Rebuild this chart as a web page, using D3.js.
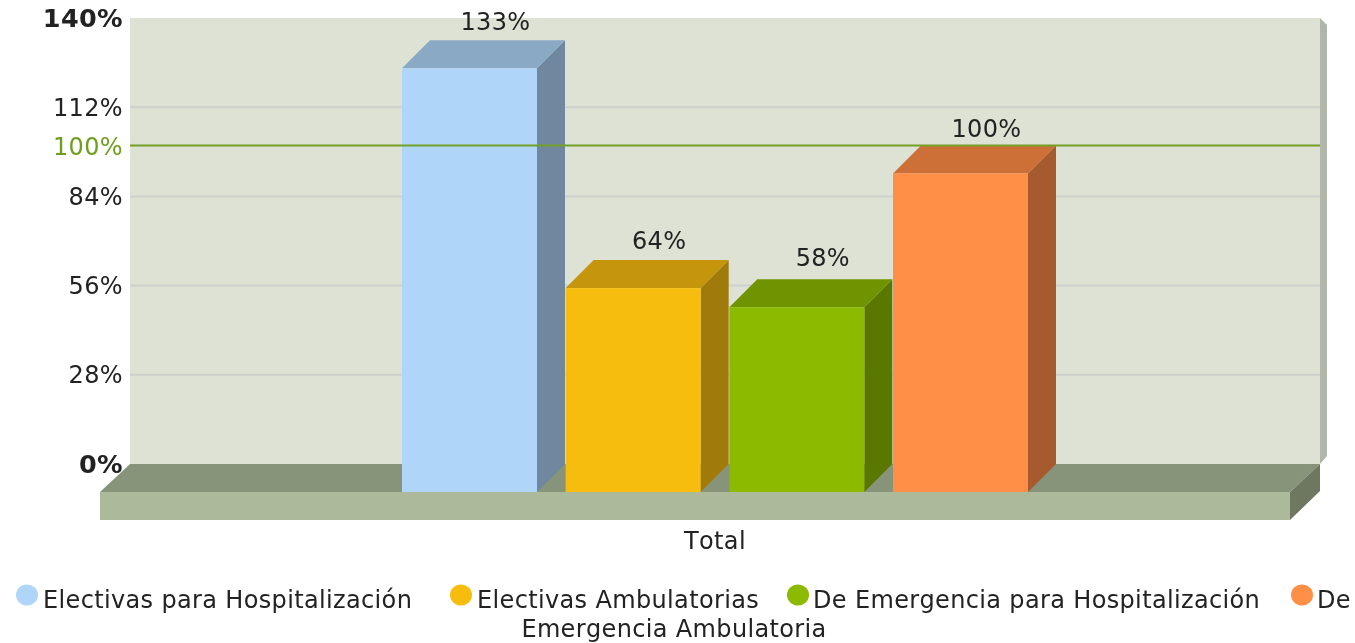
<!DOCTYPE html>
<html><head><meta charset="utf-8">
<script src="https://cdn.jsdelivr.net/npm/d3@7"></script>
<style>
html,body{margin:0;padding:0;background:#fff}
svg{display:block;filter:blur(0.55px)}
text{font-family:"DejaVu Sans",Verdana,sans-serif;fill:#222;font-kerning:none;letter-spacing:0.35px}
</style></head><body>
<svg id="c" width="1355" height="643"></svg>
<script>
const category = "Total";
const seriesNames = ["Electivas para Hospitalización","Electivas Ambulatorias","De Emergencia para Hospitalización","De Emergencia Ambulatoria"];
const seriesValues = [133,64,58,100];
const frontColors = ["#afd6f8","#f6bd0f","#8bba00","#ff8e46"];
const topColors = ["#8aa9c4","#c5960c","#6f9400","#cc7038"];
const sideColors = ["#6f88a0","#a07a0a","#5a7800","#a55b2d"];
const tickValues = [0,28,56,84,112,140];
const targetValue = 100;
const labelLift = [19,20,22,17];

const svg = d3.select("#c");
const depth = 28, fs = 24, boldFs = 25.5;
const y = d3.scaleLinear().domain([0,140]).range([464,18]);
const x = d3.scaleBand().domain(seriesNames).range([402,1028]).paddingInner(0.1752).paddingOuter(0);
const wallL = 130, wallR = 1320;
const poly = (pts,fill)=>svg.append("polygon").attr("points",pts.map(p=>p.join(",")).join(" ")).attr("fill",fill);

// wall
poly([[wallR,18],[1327,25],[1327,456],[wallR,464]],"#b0b6aa");
svg.append("rect").attr("x",wallL).attr("y",18).attr("width",wallR-wallL).attr("height",446).attr("fill","#dde2d4");
// gridlines
svg.append("g").selectAll("line").data(tickValues.filter(d=>d>0&&d<140)).join("line")
  .attr("x1",wallL).attr("x2",wallR).attr("y1",d=>y(d)).attr("y2",d=>y(d))
  .attr("stroke","#cdd1cd").attr("stroke-width",2);
// floor
const fy = y(0);
poly([[wallL,fy],[wallR,fy],[wallR-30,fy+depth],[wallL-30,fy+depth]],"#889479");
poly([[wallR-30,fy+depth],[wallR,fy],[wallR,fy+27],[wallR-30,fy+depth+28]],"#6e7860");
svg.append("rect").attr("x",wallL-30).attr("y",fy+depth).attr("width",wallR-wallL).attr("height",28).attr("fill","#acb99a");

// bars
seriesNames.forEach((s,i)=>{
  const v = seriesValues[i], l = x(s), r = l+x.bandwidth(), t = y(v)+depth, b = y(0)+depth;
  poly([[r,t],[r+depth,t-depth],[r+depth,b-depth],[r,b]],sideColors[i]);
  poly([[l,t],[l+depth,t-depth],[r+depth,t-depth],[r,t]],topColors[i]);
  svg.append("rect").attr("x",l).attr("y",t).attr("width",x.bandwidth()).attr("height",b-t).attr("fill",frontColors[i]);
});
// target line
svg.append("line").attr("x1",wallL).attr("x2",wallR).attr("y1",y(targetValue)).attr("y2",y(targetValue))
  .attr("stroke","#73a025").attr("stroke-width",2);

// axis
const axis = d3.axisLeft(y).tickValues(tickValues).tickSize(0).tickPadding(0).tickFormat(d=>d+"%");
const ag = svg.append("g").attr("transform","translate(123,0)").call(axis);
ag.select(".domain").remove();
ag.selectAll("text").attr("dy","0.33em")
  .style("font-size",d=>((d===0||d===140)?boldFs:fs)+"px")
  .style("font-weight",d=>(d===0||d===140)?"bold":"normal");
svg.append("text").attr("x",123).attr("y",y(targetValue)+1).attr("dy","0.36em").attr("text-anchor","end")
  .style("font-size",fs+"px").style("fill","#6f9e1f").text(targetValue+"%");

// value labels
svg.append("g").selectAll("text").data(seriesNames).join("text")
  .attr("x",s=>x(s)+x.bandwidth()/2+depth-2)
  .attr("y",(s,i)=>y(seriesValues[i])-labelLift[i]).attr("dy","0.36em")
  .attr("text-anchor","middle").style("font-size",fs+"px")
  .text((s,i)=>seriesValues[i]+"%");

// category
svg.append("text").attr("x",715).attr("y",540).attr("dy","0.36em").attr("text-anchor","middle").style("font-size",fs+"px").text(category);

// legend
const rows = [
 {cx:27,tx:43,t:seriesNames[0],c:frontColors[0]},
 {cx:461,tx:477,t:seriesNames[1],c:frontColors[1]},
 {cx:798,tx:813,t:seriesNames[2],c:frontColors[2]},
 {cx:1302,tx:1317,t:"De",c:frontColors[3]}
];
rows.forEach(d=>{
  svg.append("ellipse").attr("cx",d.cx).attr("cy",595).attr("rx",11).attr("ry",10.5).attr("fill",d.c);
  svg.append("text").attr("x",d.tx).attr("y",599).attr("dy","0.36em").style("font-size",fs+"px").text(d.t);
});
svg.append("text").attr("x",674).attr("y",628.5).attr("dy","0.36em").attr("text-anchor","middle").style("font-size",fs+"px").text("Emergencia Ambulatoria");
</script></body></html>
